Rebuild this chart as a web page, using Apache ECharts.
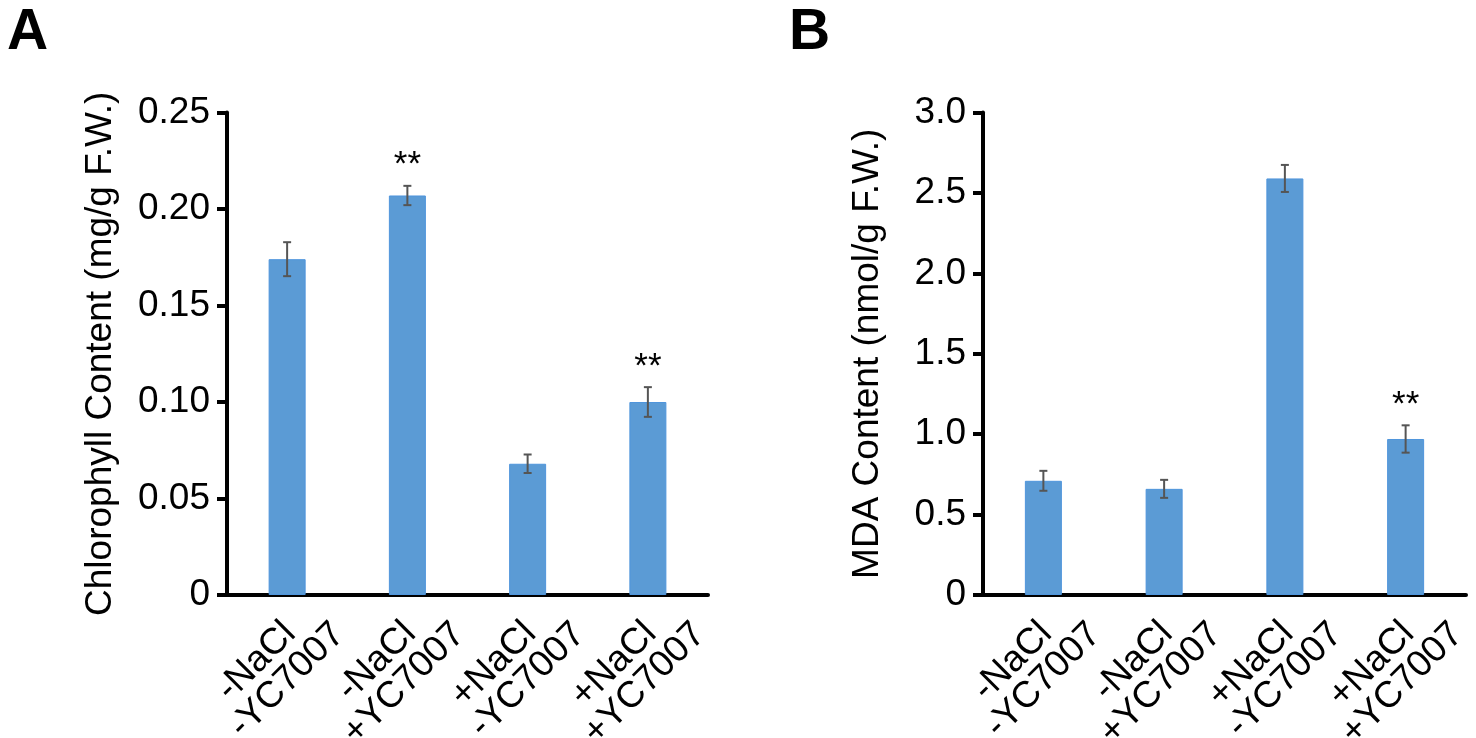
<!DOCTYPE html>
<html>
<head>
<meta charset="utf-8">
<script src="https://cdn.jsdelivr.net/npm/echarts/dist/echarts.min.js"></script>
<style>
    html, body { margin: 0; padding: 0; background: #fff; }
    #chart_id { width: 1476px; height: 738px; }
</style>
</head>
<body>
<div id="chart_id"></div>
<script>
// categories (shared by both panels)
var categories = ['-NaCl\n-YC7007', '-NaCl\n+YC7007', '+NaCl\n-YC7007', '+NaCl\n+YC7007'];

// panel A: chlorophyll content (mg/g F.W.)
var chlorophyll = [0.174, 0.207, 0.068, 0.100];
var chlorophyllErr = [0.0088, 0.005, 0.0048, 0.0077];
var chlorophyllSig = ['', '**', '', '**'];

// panel B: MDA content (nmol/g F.W.)
var mda = [0.71, 0.66, 2.59, 0.97];
var mdaErr = [0.062, 0.056, 0.084, 0.085];
var mdaSig = ['', '', '', '**'];

var FONT = 'Liberation Sans, Arial, sans-serif';

// two-line rotated label, first line pulled back a little
function labelFormatter(value) {
    var lines = value.split('\n');
    return '{a|' + lines[0] + '}\n{b|' + lines[1] + '}';
}

function errorRender(means, errs, sigs) {
    return function (params, api) {
        var i = api.value(0);
        var top = api.coord([i, means[i] + errs[i]]);
        var bot = api.coord([i, means[i] - errs[i]]);
        var half = 4;
        var lineStyle = { stroke: '#555', lineWidth: 2 };
        var children = [
            { type: 'line', shape: { x1: top[0], y1: top[1], x2: bot[0], y2: bot[1] }, style: lineStyle },
            { type: 'line', shape: { x1: top[0] - half, y1: top[1], x2: top[0] + half, y2: top[1] }, style: lineStyle },
            { type: 'line', shape: { x1: bot[0] - half, y1: bot[1], x2: bot[0] + half, y2: bot[1] }, style: lineStyle }
        ];
        if (sigs[i]) {
            children.push({
                type: 'text',
                style: {
                    text: sigs[i], x: top[0], y: top[1] - 20,
                    textAlign: 'center', textVerticalAlign: 'middle',
                    font: '35px ' + FONT, fill: '#000'
                }
            });
        }
        return { type: 'group', children: children };
    };
}

function makeXAxis(gridIndex) {
    return {
        type: 'category',
        gridIndex: gridIndex,
        data: categories,
        axisLine: { lineStyle: { color: '#000', width: 4 } },
        axisTick: { length: 11, lineStyle: { color: '#000', width: 4 } },
        axisLabel: {
            interval: 0,
            rotate: 45,
            margin: -18,
            padding: [20.5, 0, 0, 0],
            align: 'right',
            verticalAlign: 'top',
            color: '#000',
            formatter: labelFormatter,
            rich: {
                a: { fontSize: 37, fontFamily: FONT, color: '#000', align: 'right', lineHeight: 35, padding: [0, 34, 0, 0] },
                b: { fontSize: 37, fontFamily: FONT, color: '#000', align: 'right', lineHeight: 35 }
            }
        }
    };
}

function makeYAxis(gridIndex, name, max, interval, digits, nameGap) {
    return {
        type: 'value',
        gridIndex: gridIndex,
        min: 0,
        max: max,
        interval: interval,
        name: name,
        nameLocation: 'middle',
        nameRotate: 90,
        nameGap: nameGap,
        nameTextStyle: { fontSize: 37, fontFamily: FONT, color: '#000' },
        splitLine: { show: false },
        axisLine: { show: true, lineStyle: { color: '#000', width: 4 } },
        axisTick: { show: true, length: 10, lineStyle: { color: '#000', width: 4 } },
        axisLabel: {
            margin: 17,
            fontSize: 37,
            fontFamily: FONT,
            color: '#000',
            formatter: function (v) { return v === 0 ? '0' : v.toFixed(digits); }
        }
    };
}

function barSeries(index, data) {
    return {
        type: 'bar',
        xAxisIndex: index,
        yAxisIndex: index,
        data: data,
        barWidth: 37,
        itemStyle: { color: '#5b9bd5', borderColor: '#4f95dc', borderWidth: 1 }
    };
}

function errorSeries(index, means, errs, sigs) {
    return {
        type: 'custom',
        xAxisIndex: index,
        yAxisIndex: index,
        z: 5,
        data: means.map(function (v, i) { return [i, v]; }),
        renderItem: errorRender(means, errs, sigs)
    };
}

function initChart() {
    var myChart = echarts.init(document.getElementById('chart_id'));
    var option = {
        animation: false,
        backgroundColor: '#fff',
        title: [
            { text: 'A', left: 2, top: 0, textStyle: { fontSize: 57, fontWeight: 'bold', fontFamily: FONT, color: '#000' } },
            { text: 'B', left: 784, top: 0, textStyle: { fontSize: 57, fontWeight: 'bold', fontFamily: FONT, color: '#000' } }
        ],
        grid: [
            { left: 227, top: 112.5, width: 481, height: 482.5, containLabel: false, outerBoundsMode: 'none' },
            { left: 983, top: 112.5, width: 483, height: 482.5, containLabel: false, outerBoundsMode: 'none' }
        ],
        xAxis: [makeXAxis(0), makeXAxis(1)],
        yAxis: [
            makeYAxis(0, 'Chlorophyll Content (mg/g F.W.)', 0.25, 0.05, 2, 108),
            makeYAxis(1, 'MDA Content (nmol/g F.W.)', 3, 0.5, 1, 97)
        ],
        series: [
            barSeries(0, chlorophyll),
            errorSeries(0, chlorophyll, chlorophyllErr, chlorophyllSig),
            barSeries(1, mda),
            errorSeries(1, mda, mdaErr, mdaSig)
        ]
    };
    myChart.setOption(option, true);
}

initChart();
</script>
</body>
</html>
